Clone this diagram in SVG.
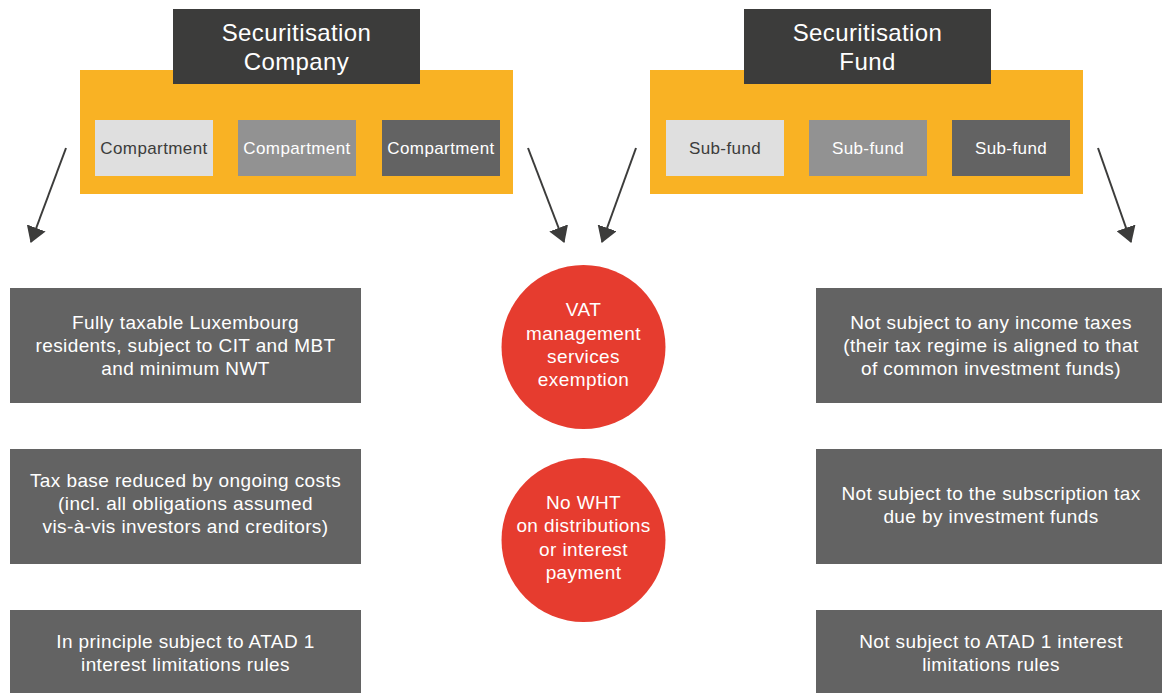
<svg xmlns="http://www.w3.org/2000/svg" width="1162" height="693" viewBox="0 0 1162 693">
<defs>
<style>
text{font-family:"Liberation Sans",Arial,sans-serif;text-anchor:middle}
.hdr{fill:#3c3c3b}
.hdrt{fill:#fff;font-size:24px;letter-spacing:0.4px}
.org{fill:#f9b224}
.c1{fill:#dfdfdf}.c2{fill:#929292}.c3{fill:#636363}
.ct{font-size:17px;letter-spacing:0.4px}
.ct1{fill:#3c3c3b}.ct2{fill:#fff}
.box{fill:#636363}
.bt{fill:#fff;font-size:19px;letter-spacing:0.4px}
.circ{fill:#e63c2f}
.conn{stroke:#3c3c3b;stroke-width:2;fill:none}
</style>
<marker id="ah" viewBox="0 0 16 20" refX="15" refY="10" markerWidth="16" markerHeight="20" markerUnits="userSpaceOnUse" orient="auto">
<path d="M0,0 L16,10 L0,20 Z" fill="#3c3c3b"/>
</marker>
</defs>
<rect width="1162" height="693" fill="#fff"/>

<g id="company">
<rect class="org" x="80" y="70" width="433" height="124"/>
<rect class="hdr" x="173" y="9" width="247" height="75"/>
<text class="hdrt" x="296.5" y="41">Securitisation</text>
<text class="hdrt" x="296.5" y="70">Company</text>
<g id="compartment1"><rect class="c1" x="95" y="120" width="118" height="56"/><text class="ct ct1" x="154" y="154">Compartment</text></g>
<g id="compartment2"><rect class="c2" x="238" y="120" width="118" height="56"/><text class="ct ct2" x="297" y="154">Compartment</text></g>
<g id="compartment3"><rect class="c3" x="382" y="120" width="118" height="56"/><text class="ct ct2" x="441" y="154">Compartment</text></g>
</g>

<g id="fund">
<rect class="org" x="650" y="70" width="433" height="124"/>
<rect class="hdr" x="744" y="9" width="247" height="75"/>
<text class="hdrt" x="867.5" y="41">Securitisation</text>
<text class="hdrt" x="867.5" y="70">Fund</text>
<g id="subfund1"><rect class="c1" x="666" y="120" width="118" height="56"/><text class="ct ct1" x="725" y="154">Sub-fund</text></g>
<g id="subfund2"><rect class="c2" x="809" y="120" width="118" height="56"/><text class="ct ct2" x="868" y="154">Sub-fund</text></g>
<g id="subfund3"><rect class="c3" x="952" y="120" width="118" height="56"/><text class="ct ct2" x="1011" y="154">Sub-fund</text></g>
</g>

<g id="connectors">
<line class="conn" x1="66" y1="148" x2="31" y2="242" marker-end="url(#ah)"/>
<line class="conn" x1="528" y1="148" x2="564" y2="242" marker-end="url(#ah)"/>
<line class="conn" x1="636" y1="148" x2="602" y2="242" marker-end="url(#ah)"/>
<line class="conn" x1="1098" y1="148" x2="1131" y2="242" marker-end="url(#ah)"/>
</g>

<g id="left1"><rect class="box" x="10" y="288" width="351" height="115"/>
<text class="bt" x="185.5" y="329">Fully taxable Luxembourg</text>
<text class="bt" x="185.5" y="352">residents, subject to CIT and MBT</text>
<text class="bt" x="185.5" y="375">and minimum NWT</text></g>
<g id="left2"><rect class="box" x="10" y="449" width="351" height="115"/>
<text class="bt" x="185.5" y="487">Tax base reduced by ongoing costs</text>
<text class="bt" x="185.5" y="510">(incl. all obligations assumed</text>
<text class="bt" x="185.5" y="533">vis-à-vis investors and creditors)</text></g>
<g id="left3"><rect class="box" x="10" y="610" width="351" height="90"/>
<text class="bt" x="185.5" y="648">In principle subject to ATAD 1</text>
<text class="bt" x="185.5" y="671">interest limitations rules</text></g>

<g id="right1"><rect class="box" x="816" y="288" width="351" height="115"/>
<text class="bt" x="991" y="329">Not subject to any income taxes</text>
<text class="bt" x="991" y="352">(their tax regime is aligned to that</text>
<text class="bt" x="991" y="375">of common investment funds)</text></g>
<g id="right2"><rect class="box" x="816" y="449" width="351" height="115"/>
<text class="bt" x="991" y="500">Not subject to the subscription tax</text>
<text class="bt" x="991" y="523">due by investment funds</text></g>
<g id="right3"><rect class="box" x="816" y="610" width="351" height="90"/>
<text class="bt" x="991" y="648">Not subject to ATAD 1 interest</text>
<text class="bt" x="991" y="671">limitations rules</text></g>

<g id="vat"><circle class="circ" cx="583.5" cy="347" r="82"/>
<text class="bt" x="583.5" y="316">VAT</text>
<text class="bt" x="583.5" y="340">management</text>
<text class="bt" x="583.5" y="363">services</text>
<text class="bt" x="583.5" y="386">exemption</text></g>
<g id="wht"><circle class="circ" cx="583.5" cy="540" r="82"/>
<text class="bt" x="583.5" y="509">No WHT</text>
<text class="bt" x="583.5" y="532">on distributions</text>
<text class="bt" x="583.5" y="556">or interest</text>
<text class="bt" x="583.5" y="579">payment</text></g>
</svg>
